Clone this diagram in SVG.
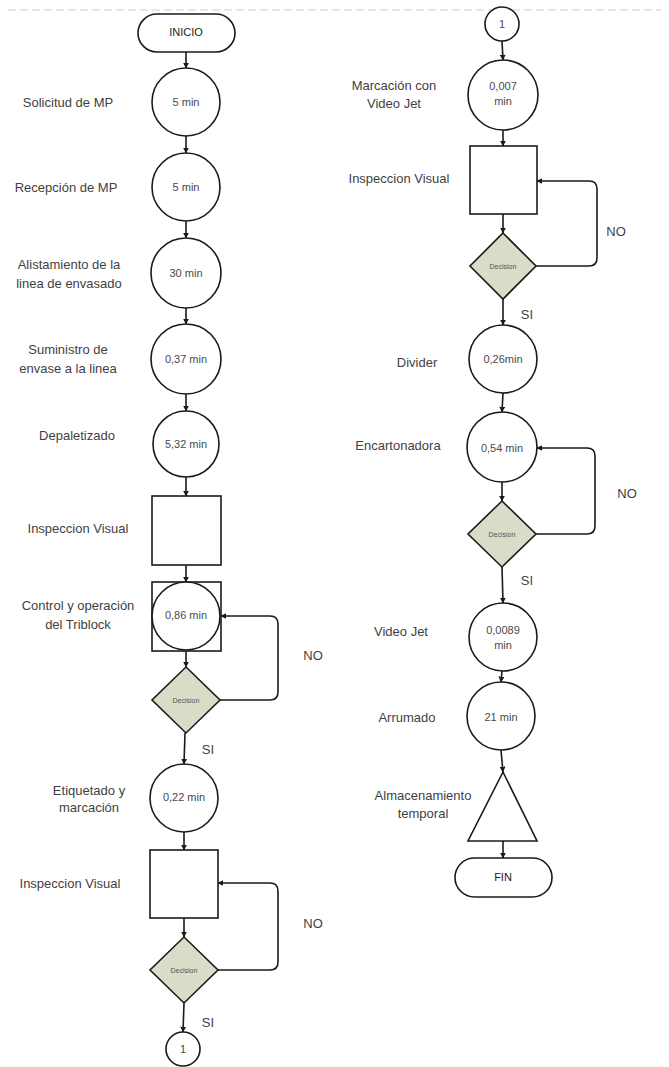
<svg xmlns="http://www.w3.org/2000/svg" width="669" height="1067" viewBox="0 0 669 1067">
  <style>
    .shape { fill: #ffffff; stroke: #1a1a1a; stroke-width: 1.6; }
    .dec { fill: #d9dcc7; stroke: #1a1a1a; stroke-width: 1.6; }
    .lbl { font-family: "Liberation Sans", Arial, sans-serif; font-size: 13px; fill: #3f3f3f; text-anchor: middle; dominant-baseline: central; }
    .val { font-family: "Liberation Sans", Arial, sans-serif; font-size: 11px; fill: #4a4a4a; text-anchor: middle; dominant-baseline: central; }
    .term { font-family: "Liberation Sans", Arial, sans-serif; font-size: 11px; fill: #222; text-anchor: middle; dominant-baseline: central; }
    .tiny { font-family: "Liberation Sans", Arial, sans-serif; font-size: 7px; fill: #555; text-anchor: middle; dominant-baseline: central; }
    .flow { fill: none; stroke: #1a1a1a; stroke-width: 1.6; marker-end: url(#arr); }
  </style>
  <defs>
    <marker id="arr" viewBox="0 0 10 10" refX="9" refY="5" markerWidth="6" markerHeight="6" markerUnits="userSpaceOnUse" orient="auto">
      <path d="M0,0 L10,5 L0,10 z" fill="#1a1a1a"/>
    </marker>
  </defs>

  <rect width="669" height="1067" fill="#ffffff"/>
  <!-- page break line -->
  <line x1="8" y1="10" x2="661" y2="10" stroke="#cfcfcf" stroke-width="1" stroke-dasharray="8,4"/>

  <!-- connectors -->
  <g id="connectors">
    <line class="flow" x1="186" y1="52" x2="186" y2="68"/>
    <line class="flow" x1="186" y1="136" x2="186" y2="153"/>
    <line class="flow" x1="186" y1="221" x2="186" y2="238"/>
    <line class="flow" x1="186" y1="308" x2="186" y2="324"/>
    <line class="flow" x1="186" y1="394" x2="186" y2="411"/>
    <line class="flow" x1="186" y1="477" x2="186" y2="496"/>
    <line class="flow" x1="186" y1="565" x2="186" y2="582"/>
    <line class="flow" x1="186" y1="651" x2="186" y2="667"/>
    <line class="flow" x1="185" y1="733" x2="184" y2="764"/>
    <line class="flow" x1="184" y1="832" x2="184" y2="850"/>
    <line class="flow" x1="184" y1="918" x2="184" y2="937"/>
    <line class="flow" x1="184" y1="1003" x2="183" y2="1032"/>
    <path class="flow" d="M220,700 H270 Q278,700 278,692 V624 Q278,616 270,616 H221"/>
    <path class="flow" d="M218,970 H270 Q278,970 278,962 V891 Q278,883 270,883 H218"/>

    <line class="flow" x1="502" y1="41" x2="503" y2="60"/>
    <line class="flow" x1="503" y1="130" x2="503" y2="146"/>
    <line class="flow" x1="503" y1="214" x2="503" y2="233"/>
    <line class="flow" x1="503" y1="299" x2="503" y2="325"/>
    <line class="flow" x1="503" y1="393" x2="502" y2="412"/>
    <line class="flow" x1="502" y1="482" x2="502" y2="501"/>
    <line class="flow" x1="502" y1="567" x2="503" y2="603"/>
    <line class="flow" x1="502" y1="671" x2="501" y2="682"/>
    <line class="flow" x1="501" y1="750" x2="503" y2="772"/>
    <line class="flow" x1="503" y1="841" x2="503" y2="858"/>
    <path class="flow" d="M536,266 H589 Q597,266 597,258 V189 Q597,181 589,181 H537"/>
    <path class="flow" d="M536,534 H587 Q595,534 595,526 V456 Q595,448 587,448 H537"/>

    <text class="lbl" x="313" y="655">NO</text>
    <text class="lbl" x="313" y="923">NO</text>
    <text class="lbl" x="616" y="231">NO</text>
    <text class="lbl" x="627" y="493">NO</text>
    <text class="lbl" x="208" y="749">SI</text>
    <text class="lbl" x="208" y="1022">SI</text>
    <text class="lbl" x="527" y="314">SI</text>
    <text class="lbl" x="527" y="580">SI</text>
  </g>

  <!-- left column -->
  <g id="inicio">
    <rect class="shape" x="138" y="14" width="97" height="38" rx="19"/>
    <text class="term" x="186" y="32">INICIO</text>
  </g>
  <g id="solicitud">
    <circle class="shape" cx="186" cy="102" r="34"/>
    <text class="val" x="186" y="102">5 min</text>
    <text class="lbl" x="68" y="102">Solicitud de MP</text>
  </g>
  <g id="recepcion">
    <circle class="shape" cx="186" cy="187" r="34"/>
    <text class="val" x="186" y="187">5 min</text>
    <text class="lbl" x="66" y="187">Recepción de MP</text>
  </g>
  <g id="alistamiento">
    <circle class="shape" cx="186" cy="273" r="35"/>
    <text class="val" x="186" y="273">30 min</text>
    <text class="lbl" x="69" y="264">Alistamiento de la</text>
    <text class="lbl" x="69" y="283">linea de envasado</text>
  </g>
  <g id="suministro">
    <circle class="shape" cx="186" cy="359" r="35"/>
    <text class="val" x="186" y="359">0,37 min</text>
    <text class="lbl" x="68" y="349">Suministro de</text>
    <text class="lbl" x="68" y="368">envase a la linea</text>
  </g>
  <g id="depaletizado">
    <circle class="shape" cx="186" cy="444" r="33"/>
    <text class="val" x="186" y="444">5,32 min</text>
    <text class="lbl" x="77" y="435">Depaletizado</text>
  </g>
  <g id="inspeccion1">
    <rect class="shape" x="152" y="496" width="69" height="69"/>
    <text class="lbl" x="78" y="528">Inspeccion Visual</text>
  </g>
  <g id="triblock">
    <rect class="shape" x="152" y="582" width="69" height="69"/>
    <circle class="shape" cx="186" cy="616" r="34"/>
    <text class="val" x="186" y="615">0,86 min</text>
    <text class="lbl" x="78" y="605">Control y operación</text>
    <text class="lbl" x="78" y="624">del Triblock</text>
  </g>
  <g id="decision1">
    <polygon class="dec" points="186,667 220,700 186,733 152,700"/>
    <text class="tiny" x="186" y="700">Decision</text>
  </g>
  <g id="etiquetado">
    <circle class="shape" cx="184" cy="798" r="34"/>
    <text class="val" x="184" y="797">0,22 min</text>
    <text class="lbl" x="89" y="790">Etiquetado y</text>
    <text class="lbl" x="89" y="807">marcación</text>
  </g>
  <g id="inspeccion2">
    <rect class="shape" x="150" y="850" width="68" height="68"/>
    <text class="lbl" x="70" y="883">Inspeccion Visual</text>
  </g>
  <g id="decision2">
    <polygon class="dec" points="184,937 218,970 184,1003 150,970"/>
    <text class="tiny" x="184" y="970">Decision</text>
  </g>
  <g id="conector-salida">
    <circle class="shape" cx="183" cy="1049" r="17"/>
    <text class="val" x="183" y="1049">1</text>
  </g>

  <!-- right column -->
  <g id="conector-entrada">
    <circle class="shape" cx="502" cy="24" r="17"/>
    <text class="val" x="502" y="24">1</text>
  </g>
  <g id="marcacion">
    <circle class="shape" cx="503" cy="95" r="35"/>
    <text class="val" x="503" y="86">0,007</text>
    <text class="val" x="503" y="101">min</text>
    <text class="lbl" x="394" y="85">Marcación con</text>
    <text class="lbl" x="394" y="103">Video Jet</text>
  </g>
  <g id="inspeccion3">
    <rect class="shape" x="470" y="146" width="67" height="68"/>
    <text class="lbl" x="399" y="178">Inspeccion Visual</text>
  </g>
  <g id="decision3">
    <polygon class="dec" points="503,233 536,266 503,299 470,266"/>
    <text class="tiny" x="503" y="266">Decision</text>
  </g>
  <g id="divider">
    <circle class="shape" cx="503" cy="359" r="34"/>
    <text class="val" x="503" y="359">0,26min</text>
    <text class="lbl" x="417" y="362">Divider</text>
  </g>
  <g id="encartonadora">
    <circle class="shape" cx="502" cy="447" r="35"/>
    <text class="val" x="502" y="448">0,54 min</text>
    <text class="lbl" x="398" y="445">Encartonadora</text>
  </g>
  <g id="decision4">
    <polygon class="dec" points="502,501 536,534 502,567 468,534"/>
    <text class="tiny" x="502" y="534">Decision</text>
  </g>
  <g id="videojet">
    <circle class="shape" cx="503" cy="637" r="34"/>
    <text class="val" x="503" y="630">0,0089</text>
    <text class="val" x="503" y="645">min</text>
    <text class="lbl" x="401" y="631">Video Jet</text>
  </g>
  <g id="arrumado">
    <circle class="shape" cx="501" cy="716" r="34"/>
    <text class="val" x="501" y="717">21 min</text>
    <text class="lbl" x="407" y="717">Arrumado</text>
  </g>
  <g id="almacenamiento">
    <polygon class="shape" points="503,772 537,841 468,841"/>
    <text class="lbl" x="423" y="795">Almacenamiento</text>
    <text class="lbl" x="423" y="813">temporal</text>
  </g>
  <g id="fin">
    <rect class="shape" x="455" y="858" width="97" height="39" rx="19.5"/>
    <text class="term" x="503" y="877">FIN</text>
  </g>
</svg>
